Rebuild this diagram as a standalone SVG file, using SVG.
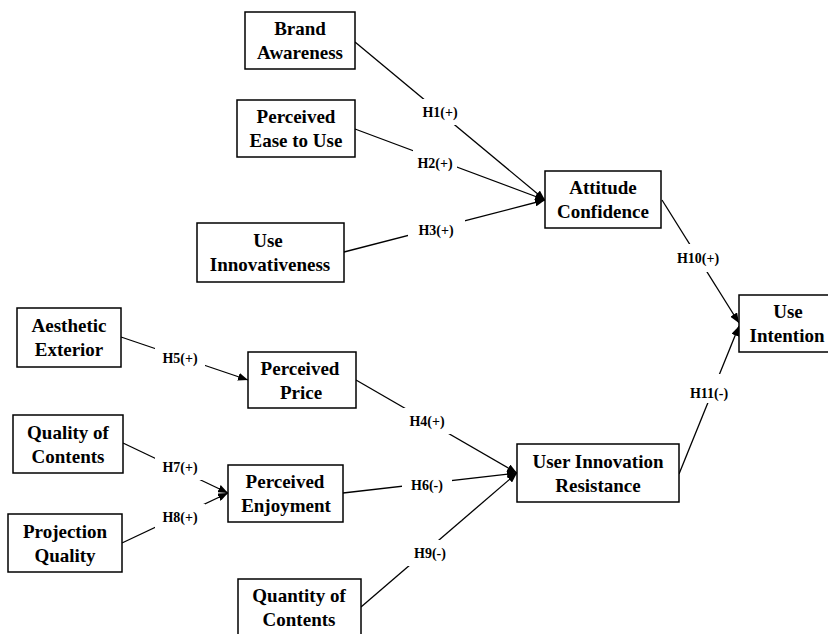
<svg xmlns="http://www.w3.org/2000/svg" width="828" height="634" viewBox="0 0 828 634">
<style>
.box{fill:#fff;stroke:#000;stroke-width:1.5}
.nt{font-family:"Liberation Serif","Times New Roman",serif;font-weight:bold;font-size:19px;text-anchor:middle;fill:#000}
.lt{font-family:"Liberation Serif","Times New Roman",serif;font-weight:bold;font-size:14px;text-anchor:middle;dominant-baseline:central;fill:#000}
.ln{stroke:#000;stroke-width:1.3;fill:none;marker-end:url(#ah)}
.lb{fill:#fff}
</style>
<defs>
<marker id="ah" viewBox="0 0 10 8" refX="10" refY="4" markerWidth="10" markerHeight="8" markerUnits="userSpaceOnUse" orient="auto">
<path d="M0,0 L10,4 L0,8 z" fill="#000"/>
</marker>
</defs>
<rect width="828" height="634" fill="#fff"/>
<g id="connectors">
<line class="ln" x1="355" y1="42" x2="545" y2="200"/>
<line class="ln" x1="355" y1="129" x2="545" y2="200"/>
<line class="ln" x1="344" y1="252" x2="545" y2="200"/>
<line class="ln" x1="662" y1="200" x2="739" y2="323"/>
<line class="ln" x1="679" y1="474" x2="739" y2="326"/>
<line class="ln" x1="121" y1="337" x2="248" y2="380"/>
<line class="ln" x1="356" y1="380" x2="517" y2="473"/>
<line class="ln" x1="123" y1="443" x2="228" y2="493"/>
<line class="ln" x1="122" y1="543" x2="228" y2="493"/>
<line class="ln" x1="343" y1="493" x2="517" y2="473"/>
<line class="ln" x1="361" y1="607" x2="517" y2="473"/>
<g id="labels">
<rect class="lb" x="418" y="99" width="44" height="26"/><text class="lt" x="440" y="112">H1(+)</text>
<rect class="lb" x="413" y="150" width="44" height="26"/><text class="lt" x="435" y="163">H2(+)</text>
<rect class="lb" x="408" y="217" width="57" height="26"/><text class="lt" x="436" y="230">H3(+)</text>
<rect class="lb" x="672" y="244" width="52" height="28"/><text class="lt" x="698" y="258">H10(+)</text>
<rect class="lb" x="685" y="374" width="48" height="29"/><text class="lt" x="709" y="393">H11(-)</text>
<rect class="lb" x="155" y="345" width="50" height="26"/><text class="lt" x="180" y="358">H5(+)</text>
<rect class="lb" x="402" y="408" width="50" height="26"/><text class="lt" x="427" y="421">H4(+)</text>
<rect class="lb" x="155" y="454" width="50" height="26"/><text class="lt" x="180" y="467">H7(+)</text>
<rect class="lb" x="155" y="504" width="50" height="26"/><text class="lt" x="180" y="517">H8(+)</text>
<rect class="lb" x="402" y="472" width="50" height="26"/><text class="lt" x="427" y="485">H6(-)</text>
<rect class="lb" x="406" y="540" width="48" height="26"/><text class="lt" x="430" y="553">H9(-)</text>
</g>
</g>
<g id="brand-awareness"><rect class="box" x="245" y="12" width="110" height="57"/><text class="nt" x="300" y="35">Brand</text><text class="nt" x="300" y="59">Awareness</text></g>
<g id="perceived-ease"><rect class="box" x="237" y="100" width="118" height="57"/><text class="nt" x="296" y="123">Perceived</text><text class="nt" x="296" y="147">Ease to Use</text></g>
<g id="use-innovativeness"><rect class="box" x="197" y="223" width="147" height="59"/><text class="nt" x="268" y="247">Use</text><text class="nt" x="270" y="271">Innovativeness</text></g>
<g id="attitude-confidence"><rect class="box" x="545" y="171" width="116" height="57"/><text class="nt" x="603" y="194">Attitude</text><text class="nt" x="603" y="218">Confidence</text></g>
<g id="use-intention"><rect class="box" x="739" y="295" width="100" height="57"/><text class="nt" x="788" y="318">Use</text><text class="nt" x="787" y="342">Intention</text></g>
<g id="aesthetic-exterior"><rect class="box" x="17" y="308" width="104" height="59"/><text class="nt" x="69" y="332">Aesthetic</text><text class="nt" x="69" y="356">Exterior</text></g>
<g id="perceived-price"><rect class="box" x="248" y="352" width="108" height="56"/><text class="nt" x="300" y="375">Perceived</text><text class="nt" x="301" y="399">Price</text></g>
<g id="quality-of-contents"><rect class="box" x="13" y="415" width="110" height="58"/><text class="nt" x="68" y="439">Quality of</text><text class="nt" x="68" y="463">Contents</text></g>
<g id="perceived-enjoyment"><rect class="box" x="228" y="465" width="115" height="57"/><text class="nt" x="285" y="488">Perceived</text><text class="nt" x="286" y="512">Enjoyment</text></g>
<g id="projection-quality"><rect class="box" x="8" y="514" width="114" height="58"/><text class="nt" x="65" y="538">Projection</text><text class="nt" x="65" y="562">Quality</text></g>
<g id="user-innovation-resistance"><rect class="box" x="517" y="444" width="162" height="58"/><text class="nt" x="598" y="468">User Innovation</text><text class="nt" x="598" y="492">Resistance</text></g>
<g id="quantity-of-contents"><rect class="box" x="238" y="579" width="123" height="60"/><text class="nt" x="299" y="602">Quantity of</text><text class="nt" x="299" y="626">Contents</text></g>
</svg>
